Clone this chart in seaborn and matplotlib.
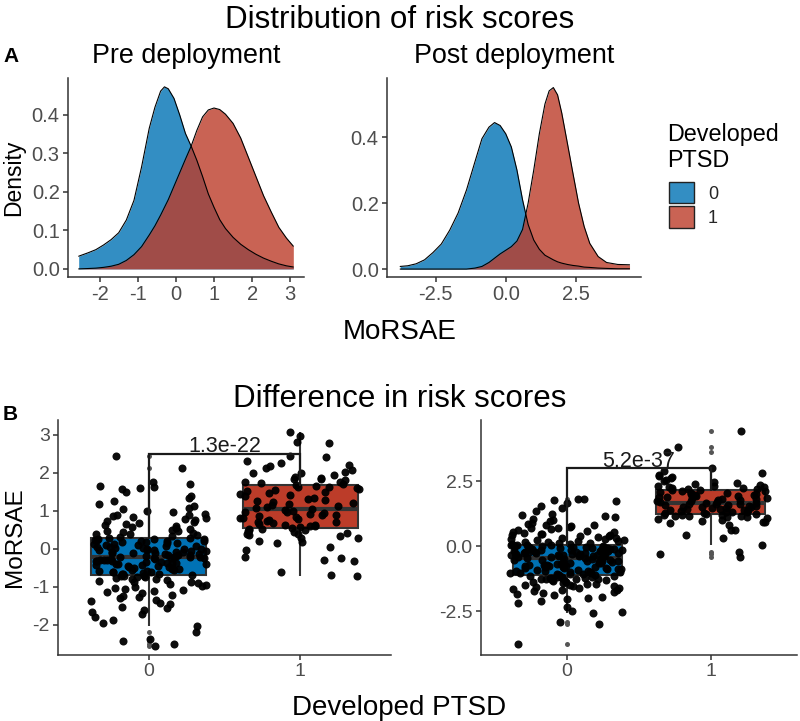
import numpy as np
import pandas as pd
import matplotlib
matplotlib.use("Agg")
import matplotlib.pyplot as plt
import seaborn as sns
from matplotlib.patches import Patch
from matplotlib.colors import to_rgba

# ---------------- data ----------------
groups = ["0", "1"]
BLUE = "#0072B5"
RED = "#BC3C29"

# Panel A: density curves
pre_x = [-2.55, -2.3, -2.1, -1.9, -1.7, -1.5, -1.3, -1.1, -0.9, -0.7, -0.55, -0.4, -0.3, -0.2,
         -0.05, 0.1, 0.25, 0.4, 0.55, 0.7, 0.85, 1.0, 1.15, 1.3, 1.5, 1.7, 1.9, 2.1, 2.3, 2.5,
         2.7, 2.9, 3.08]
pre_dens_0 = [0.033, 0.042, 0.05, 0.062, 0.076, 0.094, 0.127, 0.178, 0.265, 0.365, 0.42, 0.462,
              0.473, 0.468, 0.443, 0.4, 0.352, 0.319, 0.282, 0.24, 0.195, 0.16, 0.128, 0.105,
              0.082, 0.064, 0.05, 0.038, 0.028, 0.02, 0.013, 0.008, 0.005]
pre_dens_1 = [0.0, 0.001, 0.002, 0.004, 0.007, 0.012, 0.022, 0.037, 0.058, 0.088, 0.112, 0.14,
              0.16, 0.18, 0.215, 0.25, 0.285, 0.319, 0.36, 0.395, 0.413, 0.418, 0.414, 0.402,
              0.378, 0.34, 0.29, 0.24, 0.19, 0.148, 0.108, 0.08, 0.059]

post_x = [-3.77, -3.5, -3.2, -2.9, -2.6, -2.3, -2.0, -1.7, -1.4, -1.1, -0.85, -0.6, -0.4, -0.2,
          0.0, 0.2, 0.4, 0.6, 0.8, 1.0, 1.2, 1.4, 1.55, 1.7, 1.85, 2.0, 2.2, 2.4, 2.6, 2.8, 3.0,
          3.3, 3.6, 4.0, 4.42]
post_dens_0 = [0.008, 0.01, 0.016, 0.028, 0.05, 0.076, 0.118, 0.17, 0.24, 0.325, 0.395, 0.43,
               0.444, 0.435, 0.41, 0.37, 0.3, 0.21, 0.135, 0.088, 0.06, 0.042, 0.035, 0.028,
               0.022, 0.018, 0.014, 0.011, 0.009, 0.006, 0.005, 0.003, 0.002, 0.001, 0.001]
post_dens_1 = [0.0, 0.0, 0.0, 0.0, 0.0, 0.0, 0.0, 0.0, 0.0, 0.003, 0.008, 0.02, 0.033, 0.046,
               0.057, 0.068, 0.085, 0.12, 0.2, 0.3, 0.41, 0.5, 0.54, 0.55, 0.528, 0.473, 0.382,
               0.29, 0.2, 0.129, 0.078, 0.038, 0.02, 0.014, 0.013]

# Panel B: individual risk scores (MoRSAE)
pre_scores_0 = [
    -2.55, -2.5, -2.41, -2.37, -2.18, -2.04, -1.95, -1.87, -1.78, -1.72, -1.65, -1.6, -1.56, -1.52,
    -1.45, -1.41, -1.38, -1.35, -1.3, -1.27, -1.24, -1.2, -1.17, -1.14, -1.11, -1.08, -1.05, -1.02,
    -0.99, -0.97, -0.95, -0.92, -0.9, -0.88, -0.86, -0.84, -0.82, -0.8, -0.78, -0.76, -0.74, -0.73,
    -0.72, -0.71, -0.70,
    -0.68, -0.67, -0.66, -0.65, -0.64, -0.62, -0.61, -0.6, -0.58, -0.57, -0.56, -0.55, -0.53, -0.52,
    -0.5, -0.49, -0.48, -0.47, -0.46, -0.44, -0.43, -0.42, -0.41, -0.4, -0.39, -0.38, -0.37, -0.36,
    -0.35, -0.34, -0.33, -0.32, -0.31, -0.3, -0.29, -0.28, -0.27, -0.26, -0.25, -0.24, -0.23, -0.22,
    -0.22, -0.21, -0.21,
    -0.19, -0.18, -0.17, -0.16, -0.15, -0.14, -0.13, -0.12, -0.11, -0.1, -0.09, -0.08, -0.07, -0.06,
    -0.05, -0.04, -0.03, -0.02, -0.01, 0.0, 0.01, 0.02, 0.03, 0.05, 0.06, 0.07, 0.08, 0.1, 0.11, 0.12,
    0.13, 0.15, 0.16, 0.17, 0.18, 0.2, 0.21, 0.22, 0.23, 0.24, 0.25, 0.26, 0.27, 0.28, 0.29,
    0.32, 0.34, 0.36, 0.38, 0.4, 0.42, 0.44, 0.46, 0.48, 0.5, 0.52, 0.55, 0.57, 0.6, 0.62, 0.65,
    0.68, 0.7, 0.73, 0.76, 0.78, 0.8, 0.83, 0.86, 0.88, 0.9, 0.93, 0.96, 1.0, 1.04, 1.08, 1.12,
    1.18, 1.25, 1.33, 1.4, 1.5, 1.58, 1.6, 1.64, 1.66, 1.71, 1.75, 2.14, 2.45]
pre_scores_1 = [
    -0.71, -0.68, -0.6, -0.33, -0.29, -0.24, -0.2, -0.03, 0.06, 0.15, 0.19, 0.22, 0.28, 0.3, 0.33,
    0.36, 0.38, 0.4, 0.42, 0.45, 0.47, 0.49, 0.5, 0.52, 0.53,
    0.55, 0.57, 0.59, 0.6, 0.62, 0.64, 0.66, 0.68, 0.7, 0.72, 0.74, 0.76, 0.78, 0.8, 0.82, 0.84,
    0.86, 0.88, 0.9, 0.92, 0.94, 0.96, 0.98, 1.0, 1.03,
    1.05, 1.07, 1.1, 1.12, 1.15, 1.18, 1.2, 1.23, 1.26, 1.29, 1.32, 1.35, 1.38, 1.41, 1.44, 1.47,
    1.5, 1.52, 1.55, 1.58, 1.6, 1.62, 1.64, 1.66, 1.68,
    1.72, 1.74, 1.75, 1.77, 1.8, 1.83, 1.85, 1.86, 1.9, 1.95, 1.99, 2.0, 2.03, 2.08, 2.12, 2.17,
    2.21, 2.25, 2.3, 2.41, 2.45, 2.78, 2.81, 2.96, 3.08]
post_scores_0 = [
    -3.78, -3.0, -2.91, -2.59, -2.55, -2.5, -2.35, -2.2, -2.1, -2.05, -2.0, -1.95, -1.9, -1.85,
    -1.8, -1.76, -1.72, -1.7, -1.68, -1.65, -1.62, -1.6, -1.58, -1.55, -1.52, -1.5, -1.48, -1.46,
    -1.44, -1.42, -1.4, -1.38, -1.36, -1.34, -1.32, -1.3, -1.28, -1.27, -1.26, -1.25, -1.24, -1.23,
    -1.22, -1.21, -1.2, -1.19, -1.18, -1.17, -1.15, -1.13,
    -1.11, -1.1, -1.08, -1.07, -1.06, -1.04, -1.03, -1.02, -1.0, -0.99, -0.98, -0.96, -0.95, -0.94,
    -0.92, -0.91, -0.9, -0.88, -0.87, -0.86, -0.84, -0.83, -0.82, -0.8, -0.79, -0.78, -0.76, -0.75,
    -0.74, -0.72, -0.71, -0.7, -0.68, -0.67, -0.66, -0.64, -0.63, -0.62, -0.6, -0.59, -0.58, -0.56,
    -0.55, -0.54, -0.52, -0.51, -0.5, -0.48, -0.47, -0.45,
    -0.43, -0.42, -0.41, -0.4, -0.39, -0.38, -0.37, -0.36, -0.35, -0.34, -0.33, -0.32, -0.31, -0.3,
    -0.29, -0.28, -0.27, -0.26, -0.25, -0.24, -0.23, -0.22, -0.21, -0.2, -0.19, -0.18, -0.17, -0.16,
    -0.15, -0.14, -0.13, -0.12, -0.11, -0.1, -0.09, -0.08, -0.07, -0.06, -0.05, -0.04, -0.03, -0.02,
    -0.01, 0.0, 0.01, 0.02, 0.03, 0.04, 0.05, 0.05,
    0.07, 0.09, 0.11, 0.13, 0.15, 0.17, 0.19, 0.21, 0.23, 0.25, 0.27, 0.29, 0.31, 0.33, 0.35, 0.37,
    0.39, 0.41, 0.43, 0.45, 0.48, 0.5, 0.53, 0.56, 0.59, 0.62, 0.65, 0.68, 0.71, 0.74, 0.77, 0.8,
    0.83, 0.86, 0.9, 0.95, 1.0, 1.05, 1.1, 1.15, 1.2, 1.25, 1.35, 1.45, 1.55, 1.65, 1.72, 1.76,
    1.8, 1.82]
post_scores_1 = [
    -0.41, -0.3, -0.22, 0.04, 0.3, 0.42, 0.62, 0.63, 0.81, 0.9, 0.91, 0.94, 0.98, 1.02, 1.05, 1.08,
    1.1, 1.12, 1.14, 1.15, 1.17, 1.18, 1.19, 1.21, 1.22,
    1.24, 1.26, 1.28, 1.3, 1.32, 1.33, 1.35, 1.37, 1.39, 1.4, 1.42, 1.44, 1.45, 1.47, 1.49, 1.5,
    1.52, 1.54, 1.55, 1.57, 1.58, 1.6, 1.61, 1.62, 1.64,
    1.66, 1.68, 1.7, 1.72, 1.74, 1.76, 1.78, 1.8, 1.82, 1.84, 1.86, 1.88, 1.9, 1.92, 1.94, 1.96,
    1.98, 2.0, 2.02, 2.04, 2.06, 2.08, 2.1, 2.12, 2.14,
    2.16, 2.18, 2.2, 2.22, 2.24, 2.26, 2.28, 2.3, 2.33, 2.36, 2.4, 2.44, 2.48, 2.52, 2.56, 2.6,
    2.65, 2.7, 2.75, 2.8, 2.9, 2.99, 3.63, 3.8, 4.42]

p_labels = ["1.3e-22", "5.2e-37"]
bracket_y = [2.5, 3.0]

# ---------------- style ----------------
sns.set_theme(style="ticks")
plt.rcParams['font.family'] = ['Liberation Sans', 'DejaVu Sans']
plt.rcParams['axes.unicode_minus'] = False

W, H = 800, 721
fig = plt.figure(figsize=(8, 7.21), dpi=100)
fig.patch.set_facecolor("white")


def add_ax(x0, y0, x1, y1):
    return fig.add_axes([x0 / W, 1 - y1 / H, (x1 - x0) / W, (y1 - y0) / H])


def style(ax, lsize):
    for s in ["top", "right"]:
        ax.spines[s].set_visible(False)
    for s in ["left", "bottom"]:
        ax.spines[s].set_color("#333333")
        ax.spines[s].set_linewidth(1.1)
    ax.tick_params(axis="both", length=3.5, width=1.1, color="#333333",
                   labelcolor="#4D4D4D", labelsize=lsize, pad=2.5)
    ax.set_xlabel("")
    ax.set_ylabel("")
    ax.grid(False)


def density_panel(ax, xs, d0, d1):
    for ys, c in ((d0, BLUE), (d1, RED)):
        ax.fill_between(xs, 0, ys, color=c, alpha=0.8, linewidth=0)
        sns.lineplot(x=xs, y=ys, color="black", linewidth=0.8, ax=ax, sort=False)


def box_panel(ax, v0, v1, ybr, ptxt, off, seed):
    df = pd.DataFrame({"g": ["0"] * len(v0) + ["1"] * len(v1), "v": list(v0) + list(v1)})
    sns.boxplot(data=df, x="g", y="v", hue="g", order=groups, hue_order=groups,
                palette={"0": BLUE, "1": RED}, width=0.76, linewidth=1.5,
                linecolor="#333333", saturation=1, showcaps=False, fliersize=3.6,
                flierprops=dict(marker="o", markerfacecolor="#555555", markeredgecolor="none"),
                medianprops=dict(linewidth=3.0, color="#333333"), legend=False, ax=ax)
    np.random.seed(seed)
    sns.stripplot(data=df, x="g", y="v", order=groups, color="black", size=5.8, jitter=0.4,
                  alpha=0.95, linewidth=0, ax=ax, zorder=3)
    q0 = np.percentile(v0, 75)
    q1 = np.percentile(v1, 75)
    ax.plot([0, 0, 1, 1], [q0, ybr, ybr, q1], color="#1a1a1a", lw=1.6, zorder=4,
            solid_joinstyle="miter")
    ax.text(0.5, ybr + off, ptxt, ha="center", va="baseline", fontsize=15.5,
            color="#1a1a1a", zorder=5)


# ---------------- panel A ----------------
axA1 = add_ax(68, 78, 304, 277)
axA2 = add_ax(387, 78, 641, 277)
density_panel(axA1, pre_x, pre_dens_0, pre_dens_1)
density_panel(axA2, post_x, post_dens_0, post_dens_1)

axA1.set_xlim(-2.83, 3.36)
axA1.set_ylim(-0.021, 0.496)
axA1.set_xticks([-2, -1, 0, 1, 2, 3])
axA1.set_xticklabels(["-2", "-1", "0", "1", "2", "3"])
axA1.set_yticks([0, 0.1, 0.2, 0.3, 0.4])
axA1.set_yticklabels(["0.0", "0.1", "0.2", "0.3", "0.4"])

axA2.set_xlim(-4.24, 4.83)
axA2.set_ylim(-0.024, 0.579)
axA2.set_xticks([-2.5, 0, 2.5])
axA2.set_xticklabels(["-2.5", "0.0", "2.5"])
axA2.set_yticks([0, 0.2, 0.4])
axA2.set_yticklabels(["0.0", "0.2", "0.4"])

for ax, t in ((axA1, "Pre deployment"), (axA2, "Post deployment")):
    style(ax, 14.5)
    ax.set_title(t, fontsize=19.4, pad=10.6, color="black")

# ---------------- panel B ----------------
axB1 = add_ax(58, 420, 391, 655)
axB2 = add_ax(481, 420, 797, 655)
box_panel(axB1, pre_scores_0, pre_scores_1, bracket_y[0], p_labels[0], 0.04, 3)
box_panel(axB2, post_scores_0, post_scores_1, bracket_y[1], p_labels[1], 0.06, 7)

axB1.set_xlim(-0.6, 1.6)
axB1.set_ylim(-2.79, 3.39)
axB1.set_yticks([-2, -1, 0, 1, 2, 3])
axB1.set_yticklabels(["-2", "-1", "0", "1", "2", "3"])
axB2.set_xlim(-0.6, 1.6)
axB2.set_ylim(-4.19, 4.85)
axB2.set_yticks([-2.5, 0, 2.5])
axB2.set_yticklabels(["-2.5", "0.0", "2.5"])
for ax in (axB1, axB2):
    ax.set_xticks([0, 1])
    ax.set_xticklabels(groups)
    style(ax, 14)

# ---------------- figure text ----------------
fig.text(0.5, 1 - 28 / H, "Distribution of risk scores", ha="center", va="baseline",
         fontsize=22.5, color="black")
fig.text(3 / W, 1 - 61.7 / H, "A", ha="left", va="baseline", fontsize=15,
         fontweight="bold", color="black")
fig.text(0.5, 1 - 339 / H, "MoRSAE", ha="center", va="baseline", fontsize=20, color="black")
fig.text(14 / W, 1 - 177.5 / H, "Density", rotation=90, ha="center", va="center",
         fontsize=16.5, color="black")

fig.text(0.5, 1 - 406.7 / H, "Difference in risk scores", ha="center", va="baseline",
         fontsize=22.5, color="black")
fig.text(3 / W, 1 - 420 / H, "B", ha="left", va="baseline", fontsize=15,
         fontweight="bold", color="black")
fig.text(399 / W, 1 - 715 / H, "Developed PTSD", ha="center", va="baseline", fontsize=20,
         color="black")
fig.text(15 / W, 1 - 537.5 / H, "MoRSAE", rotation=90, ha="center", va="center",
         fontsize=17.5, color="black")

# legend
fig.text(667 / W, 1 - 140.7 / H, "Developed", ha="left", va="baseline", fontsize=16.8,
         color="black")
fig.text(667 / W, 1 - 166.7 / H, "PTSD", ha="left", va="baseline", fontsize=16.8,
         color="black")
handles = [Patch(facecolor=to_rgba(BLUE, 0.8), edgecolor="#222222", linewidth=1.0),
           Patch(facecolor=to_rgba(RED, 0.8), edgecolor="#222222", linewidth=1.0)]
fig.legend(handles, groups, loc="upper left", bbox_to_anchor=(669 / W, 1 - 182 / H),
           frameon=False, fontsize=13, handlelength=1.384, handleheight=1.44,
           handletextpad=0.775, labelspacing=0.166, borderpad=0, borderaxespad=0)

fig.savefig("out.png", dpi=100, facecolor="white")
